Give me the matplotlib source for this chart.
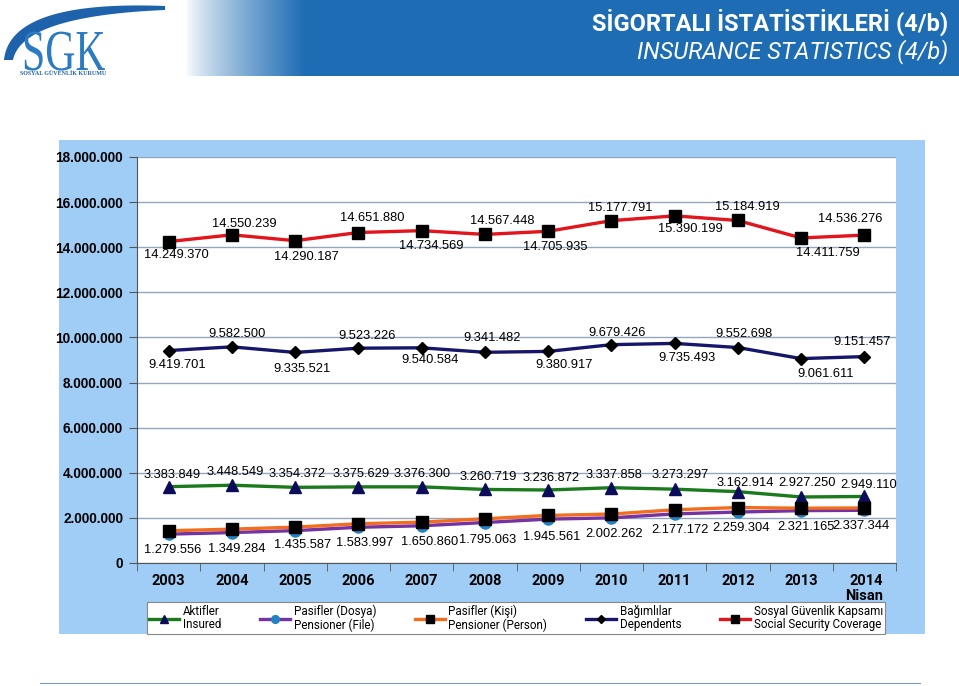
import numpy as np
import matplotlib
matplotlib.use("Agg")
import matplotlib.pyplot as plt
from matplotlib import font_manager as fm
from matplotlib.colors import to_rgb
from matplotlib.textpath import TextPath
from matplotlib.patches import PathPatch
from matplotlib.transforms import Affine2D


def pick(*names):
    for n in names:
        try:
            fm.findfont(fm.FontProperties(family=n), fallback_to_default=False)
            return n
        except Exception:
            pass
    return "DejaVu Sans"


ARIAL = pick("Liberation Sans", "Arial", "DejaVu Sans")
NARROW = pick("Liberation Sans Narrow", "Arial Narrow", "Roboto", "DejaVu Sans")
SERIF = pick("Liberation Serif", "DejaVu Serif")

# --- data ---
years = ["2003", "2004", "2005", "2006", "2007", "2008", "2009", "2010",
         "2011", "2012", "2013", "2014\nNisan"]
aktifler = [3383849, 3448549, 3354372, 3375629, 3376300, 3260719, 3236872,
            3337858, 3273297, 3162914, 2927250, 2949110]
pasif_dosya = [1279556, 1349284, 1435587, 1583997, 1650860, 1795063, 1945561,
               2002262, 2177172, 2259304, 2321165, 2337344]
# Pasifler (Kişi) has no data labels in the source; values estimated from the lines
pasif_kisi = [1430000, 1500000, 1590000, 1740000, 1810000, 1960000, 2110000,
              2170000, 2360000, 2460000, 2430000, 2440000]
bagimli = [9419701, 9582500, 9335521, 9523226, 9540584, 9341482, 9380917,
           9679426, 9735493, 9552698, 9061611, 9151457]
kapsam = [14249370, 14550239, 14290187, 14651880, 14734569, 14567448, 14705935,
          15177791, 15390199, 15184919, 14411759, 14536276]

names = ["Aktifler\nInsured", "Pasifler (Dosya)\nPensioner (File)",
         "Pasifler (Kişi)\nPensioner (Person)", "Bağımlılar\nDependents",
         "Sosyal Güvenlik Kapsamı\nSocial Security Coverage"]

# label offsets in pixels (dx right, dy down) as placed in the original
akt_dx = [4, 3, 2, 3, 1, 3, 3, 3, 6, 7, 6, 4]
akt_dy = [-12, -13, -13, -13, -13, -12, -12, -13, -14, -9, -14, -11]
dos_dx = [4, 5, 7, 6, 8, 3, 4, 3, 5, 3, 5, -3]
dos_dy = [16, 16, 14, 16, 16, 17, 18, 16, 16, 16, 16, 16]
bag_dx = [9, 5, 7, 9, 8, 7, 16, 6, 12, 6, 24, -2]
bag_dy = [14, -13, 17, -12, 12, -14, 14, -12, 15, -14, 15, -15]
kap_dx = [8, 12, 11, 14, 10, 17, 7, 9, 16, 10, 27, -14]
kap_dy = [13, -11, 16, -15, 15, -13, 16, -13, 13, -13, 15, -16]


def fmt(v):
    return f"{v:,}".replace(",", ".")


def bez(p0, p1, p2, u):
    p0, p1, p2 = map(np.array, (p0, p1, p2))
    return ((1 - u) ** 2)[:, None] * p0 + (2 * u * (1 - u))[:, None] * p1 + (u ** 2)[:, None] * p2


fig = plt.figure(figsize=(9.59, 6.86), dpi=100)
W, H = 959, 686

# --- header band with gradient ---
hdr = fig.add_axes([0, 1 - 76 / H, 1, 76 / H])
hdr.set_xlim(0, W)
hdr.set_ylim(76, 0)
hdr.axis("off")
blue = np.array(to_rgb("#1e6cb3"))
xs = np.arange(W)
t = np.clip((xs - 185) / 120.0, 0, 1) ** 0.8
grad = (1 - t)[:, None] * np.ones(3) + t[:, None] * blue
hdr.imshow(grad[None, :, :], extent=[0, W, 76, 0], aspect="auto", zorder=0)

# logo swoosh
u = np.linspace(0, 1, 80)
outer = bez((4, 60), (10, 0), (165, 6), u)
inner = bez((13, 60), (22, 16), (165, 10), u)
poly = np.vstack([outer, inner[::-1]])
hdr.fill(poly[:, 0], poly[:, 1], color="#1d62aa", lw=0, zorder=2)
tp = TextPath((0, 0), "SGK", size=58, prop=fm.FontProperties(family=SERIF))
tr = Affine2D().scale(0.72, -1).translate(22, 70) + hdr.transData
hdr.add_patch(PathPatch(tp, transform=tr, color="#2b7bc2", lw=0, zorder=3))
hdr.text(20, 76, "SOSYAL GÜVENLİK KURUMU", fontsize=4.3, family=SERIF,
         fontweight="bold", color="#1c5fa8", ha="left", va="bottom", zorder=3)
hdr.text(948, 22, "SİGORTALI İSTATİSTİKLERİ (4/b)", fontsize=17,
         family=NARROW, fontweight="bold", color="white", ha="right", va="center")
hdr.text(948, 52, "INSURANCE STATISTICS (4/b)", fontsize=17,
         family=NARROW, style="italic", color="white", ha="right", va="center")

# --- chart background ---
bg = fig.add_axes([59 / W, 1 - 634 / H, (925 - 59) / W, (634 - 140) / H])
bg.set_facecolor("#a0cdf6")
bg.set_xticks([])
bg.set_yticks([])
for s in bg.spines.values():
    s.set_visible(False)
bg.set_zorder(0)

# bottom rule
fig.add_artist(plt.Line2D([40 / W, 920 / W], [1 - 683 / H] * 2,
                          color="#7a9cc4", lw=0.8))

# --- plot area ---
ax = fig.add_axes([137 / W, 1 - 563 / H, (896 - 137) / W, (563 - 157) / H])
ax.set_zorder(1)
ax.set_facecolor("white")
x = np.arange(len(years))

series = [
    (aktifler, "#1b7a1b", "^", "#0c0c5a", 8.5, akt_dx, akt_dy, True),
    (pasif_dosya, "#7432a3", "o", "#2283c4", 8, dos_dx, dos_dy, True),
    (pasif_kisi, "#f26d1e", "s", "black", 8, None, None, False),
    (bagimli, "#16166a", "D", "black", 6.5, bag_dx, bag_dy, True),
    (kapsam, "#e3141b", "s", "black", 9, kap_dx, kap_dy, True),
]
for (vals, lc, mk, mc, ms, dx, dy, lab), nm in zip(series, names):
    ax.plot(x, vals, color=lc, lw=2.4, marker=mk, markersize=ms,
            markerfacecolor=mc, markeredgecolor=mc, label=nm, zorder=3)
    if lab:
        for i, v in enumerate(vals):
            ax.annotate(fmt(v), (x[i], v), xytext=(dx[i], -dy[i]),
                        textcoords="offset pixels", ha="center", va="center",
                        fontsize=9.3, family=ARIAL, color="black", zorder=4)

ax.set_xlim(-0.5, len(years) - 0.5)
ax.set_ylim(0, 18000000)
ax.set_yticks(np.arange(0, 18000001, 2000000))
ax.set_yticklabels([fmt(v) for v in range(0, 18000001, 2000000)],
                   fontsize=9.8, family=ARIAL, fontweight="bold")
ax.yaxis.grid(True, color="#94a6bc", lw=1)
ax.set_axisbelow(True)
ax.set_xticks(x)
ax.set_xticklabels(years, fontsize=10.5, family=NARROW, fontweight="bold",
                   linespacing=1.05)
ax.xaxis.get_ticklabels()[-1].set_multialignment("right")
ax.set_xticks(np.arange(-0.5, len(years)), minor=True)
ax.tick_params(axis="x", which="major", length=0, pad=8)
ax.tick_params(axis="x", which="minor", length=6, color="#555555")
ax.tick_params(axis="y", length=6, color="#555555", pad=4)
for s in ["top", "right"]:
    ax.spines[s].set_visible(False)
for s in ["left", "bottom"]:
    ax.spines[s].set_color("#555555")

leg = ax.legend(loc="center", bbox_to_anchor=(516 / W, 1 - 618 / H),
                bbox_transform=fig.transFigure, ncol=5, frameon=True,
                fancybox=False, edgecolor="#888888", framealpha=1,
                prop={"family": NARROW, "size": 8.4}, handlelength=2.6,
                handletextpad=0.3, columnspacing=3.3, markerscale=0.7,
                borderpad=0.2, labelspacing=0.2)
leg.get_frame().set_linewidth(0.8)
for txt in leg.get_texts():
    txt.set_linespacing(1.05)

fig.savefig("out.png", dpi=100)
